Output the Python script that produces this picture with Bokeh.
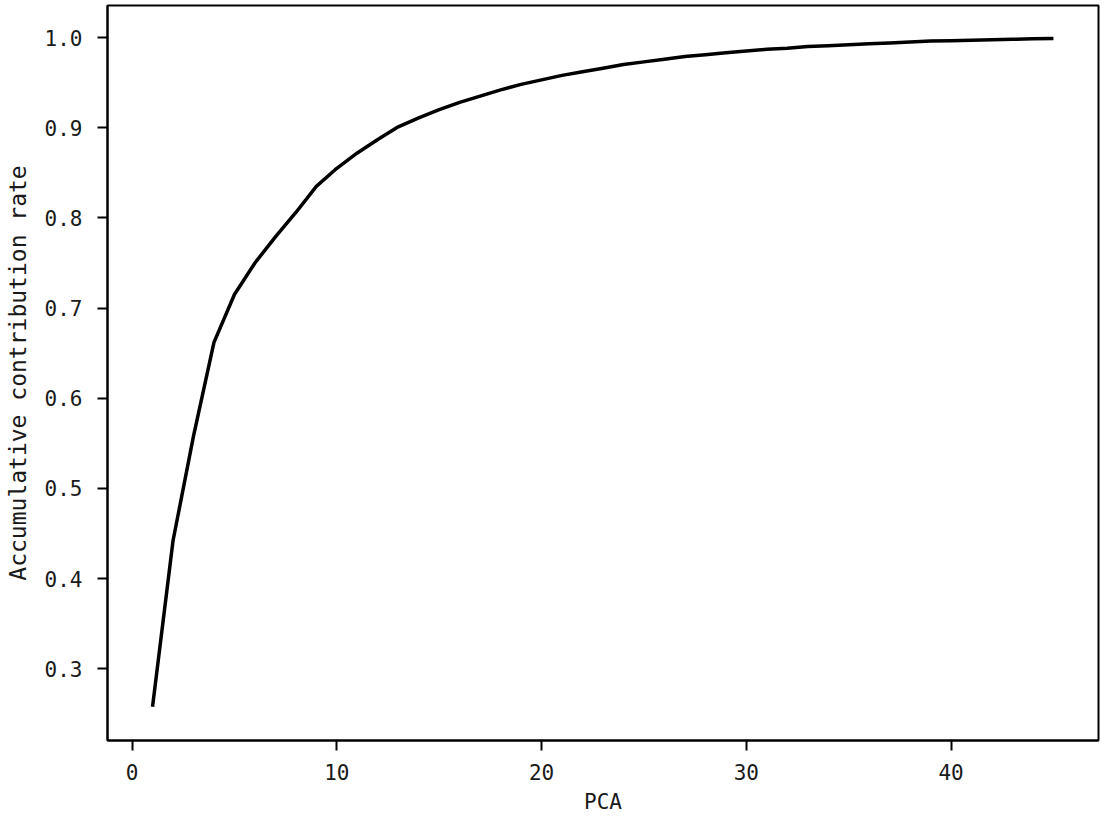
from bokeh.plotting import figure
from bokeh.models import FixedTicker, Range1d, PrintfTickFormatter
from bokeh.embed import file_html
from bokeh.resources import INLINE

# ---- data ----
pca_components = list(range(1, 46))
accumulative_rate = [
    0.258, 0.442, 0.558, 0.662, 0.715, 0.750, 0.779, 0.806, 0.835, 0.855,
    0.872, 0.887, 0.901, 0.911, 0.920, 0.928, 0.935, 0.942, 0.948, 0.953,
    0.958, 0.962, 0.966, 0.970, 0.973, 0.976, 0.979, 0.981, 0.983, 0.985,
    0.987, 0.988, 0.990, 0.991, 0.992, 0.993, 0.994, 0.995, 0.996, 0.9965,
    0.997, 0.9975, 0.998, 0.9985, 0.999,
]
x_ticks = [0, 10, 20, 30, 40]
y_ticks = [0.3, 0.4, 0.5, 0.6, 0.7, 0.8, 0.9, 1.0]

FONT = "DejaVu Sans Mono"

p = figure(
    frame_width=991, frame_height=735,
    min_border_left=107, min_border_right=4, min_border_top=5, min_border_bottom=83,
    x_range=Range1d(-1.2, 47.2), y_range=Range1d(0.2205, 1.0355),
    output_backend="svg", toolbar_location=None,
    background_fill_color="white", border_fill_color="white",
)

p.line(pca_components, accumulative_rate, line_width=3.5, line_color="black")

p.grid.visible = False
p.outline_line_color = "black"
p.outline_line_width = 2

for ax in (p.xaxis[0], p.yaxis[0]):
    ax.axis_line_width = 2
    ax.axis_line_color = "black"
    ax.major_tick_line_width = 2
    ax.major_tick_line_color = "black"
    ax.major_tick_out = 10
    ax.major_tick_in = 0
    ax.minor_tick_out = 0
    ax.minor_tick_in = 0
    ax.major_label_text_font = FONT
    ax.major_label_text_font_size = "21px"
    ax.major_label_text_color = "#1a1a1a"
    ax.axis_label_text_font = FONT
    ax.axis_label_text_font_style = "normal"
    ax.axis_label_text_color = "#1a1a1a"

p.xaxis[0].axis_label_text_font_size = "21px"
p.yaxis[0].axis_label_text_font_size = "23px"
p.xaxis[0].axis_label_text_line_height = 0.9

p.xaxis[0].ticker = FixedTicker(ticks=x_ticks)
p.yaxis[0].ticker = FixedTicker(ticks=y_ticks)
p.yaxis[0].formatter = PrintfTickFormatter(format="%.1f")

p.xaxis[0].axis_label = "PCA"
p.yaxis[0].axis_label = "Accumulative contribution rate"
p.xaxis[0].major_label_standoff = 13
p.yaxis[0].major_label_standoff = 15
p.xaxis[0].axis_label_standoff = 7
p.yaxis[0].axis_label_standoff = 11

open("out.html", "w").write(file_html(p, INLINE))
